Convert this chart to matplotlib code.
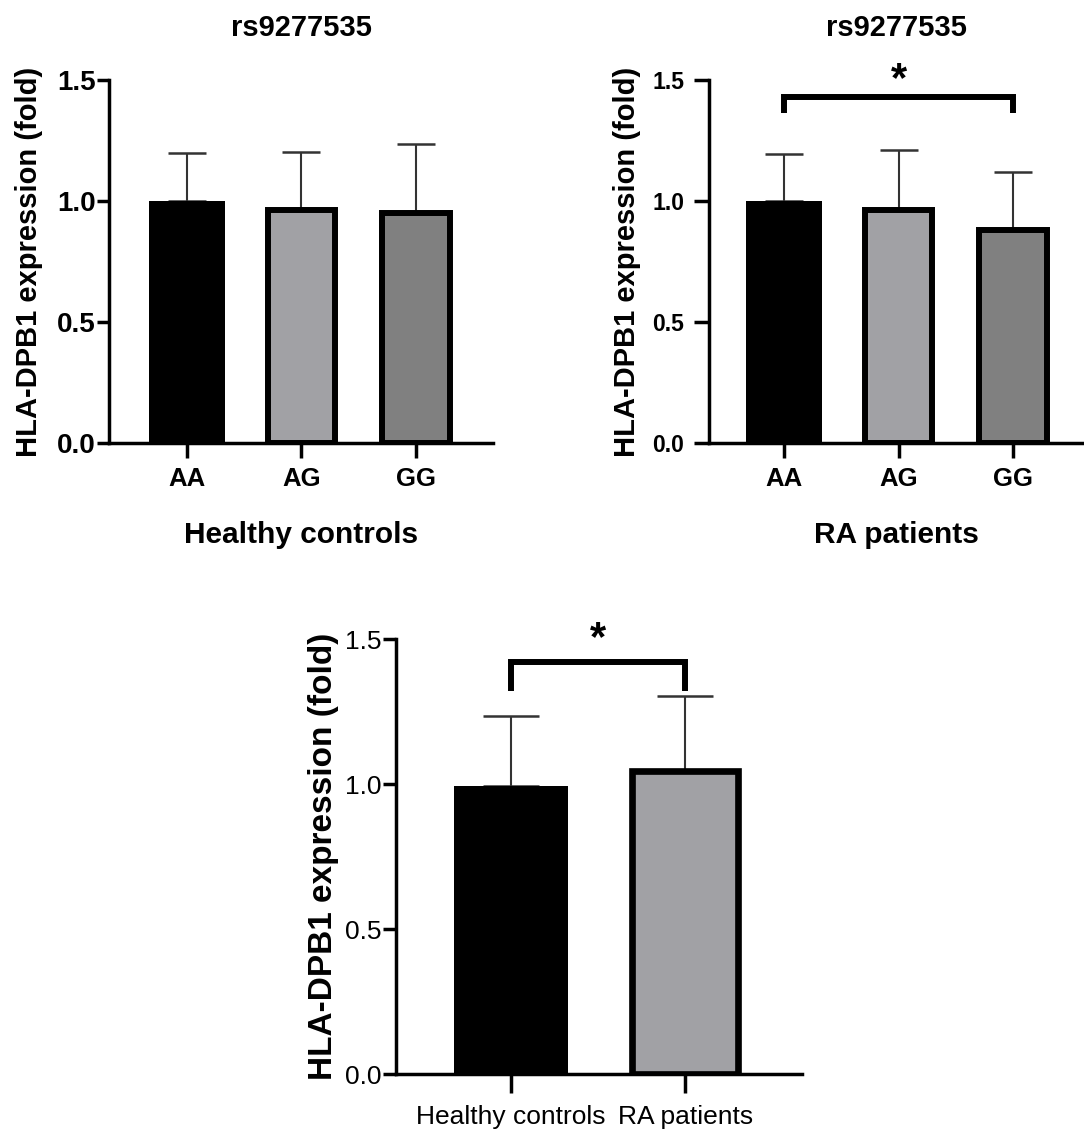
import matplotlib
matplotlib.use("Agg")
import matplotlib.pyplot as plt

plt.rcParams['font.family'] = ['Liberation Sans', 'DejaVu Sans']

# data
genotypes = ['AA', 'AG', 'GG']
hc_means = [1.00, 0.963, 0.95]
hc_err = [0.197, 0.24, 0.285]
ra_means = [1.00, 0.963, 0.881]
ra_err = [0.194, 0.25, 0.24]
groups = ['Healthy controls', 'RA patients']
grp_means = [0.995, 1.045]
grp_err = [0.24, 0.26]

bar_colors = ['#000000', '#a1a1a5', '#808080']
title = 'rs9277535'
ylab = 'HLA-DPB1 expression (fold)'


def style_axes(ax, xlim, xtick_len, ytick_len, ytick_pad, xtick_pad,
               xsize, ysize, weight):
    ax.set_ylim(0, 1.5)
    ax.set_xlim(*xlim)
    ax.set_yticks([0.0, 0.5, 1.0, 1.5])
    ax.set_yticklabels(['0.0', '0.5', '1.0', '1.5'])
    for s in ['top', 'right']:
        ax.spines[s].set_visible(False)
    for s in ['left', 'bottom']:
        ax.spines[s].set_linewidth(2.5)
    ax.tick_params(axis='x', length=xtick_len, width=2.5, pad=xtick_pad,
                   labelsize=xsize)
    ax.tick_params(axis='y', length=ytick_len, width=2.5, pad=ytick_pad,
                   labelsize=ysize)
    for lab in ax.get_xticklabels() + ax.get_yticklabels():
        lab.set_fontweight(weight)


def draw_bars(ax, labels, means, errs, capsize, edge_lw, widths):
    x = list(range(len(labels)))
    ax.errorbar(x, means, yerr=[[0] * len(means), errs], fmt='none',
                ecolor='#333333', elinewidth=1.5, capsize=capsize,
                capthick=1.8, zorder=1)
    for i in x:
        lw = 0 if i == 0 else edge_lw
        ax.bar(i, means[i], width=widths[i], color=bar_colors[i],
               edgecolor='black', linewidth=lw, zorder=2)
    ax.set_xticks(x)
    ax.set_xticklabels(labels)


def bracket(ax, x0, x1, y_top, y_leg, y_star):
    ax.plot([x0, x0, x1, x1], [y_leg, y_top, y_top, y_leg], color='black',
            lw=4.3, solid_joinstyle='miter', solid_capstyle='butt',
            clip_on=False, zorder=3)
    ax.text((x0 + x1) / 2, y_star, '*', ha='center', va='center',
            fontsize=30, fontweight='bold')


fig = plt.figure(figsize=(10.84, 11.35), dpi=100)

# top left: healthy controls
ax1 = fig.add_axes([0.1008, 0.6094, 0.354, 0.3201])
draw_bars(ax1, genotypes, hc_means, hc_err, 13.8, 4.3, [0.66, 0.59, 0.59])
style_axes(ax1, (-0.675, 2.671), 10.8, 9, 0.5, 6.5, 18.5, 20, 'bold')
ax1.set_title(title, fontsize=21, fontweight='bold', pad=32)
ax1.set_xlabel('Healthy controls', fontsize=21.5, fontweight='bold', labelpad=21)
ax1.set_ylabel(ylab, fontsize=21, fontweight='bold', labelpad=10)

# top right: RA patients
ax2 = fig.add_axes([0.654, 0.6094, 0.346, 0.3201])
draw_bars(ax2, genotypes, ra_means, ra_err, 13.8, 4.3, [0.66, 0.59, 0.59])
style_axes(ax2, (-0.654, 2.617), 10.8, 10.8, 7, 6.5, 18.5, 16.6, 'bold')
ax2.set_title(title, fontsize=21, fontweight='bold', pad=32)
ax2.set_xlabel('RA patients', fontsize=21.5, fontweight='bold', labelpad=21)
ax2.set_ylabel(ylab, fontsize=21, fontweight='bold', labelpad=8)
bracket(ax2, 0, 2, 1.431, 1.362, 1.50)

# bottom: controls vs patients
ax3 = fig.add_axes([0.3653, 0.0535, 0.3746, 0.3832])
draw_bars(ax3, groups, grp_means, grp_err, 20, 4.8, [0.66, 0.613])
style_axes(ax3, (-0.661, 1.672), 13.7, 9.4, 0.8, 8.5, 19, 19, 'normal')
ax3.set_ylabel(ylab, fontsize=24, fontweight='bold', labelpad=4.5)
bracket(ax3, 0, 1, 1.423, 1.323, 1.50)

fig.savefig('out.png', dpi=100)
